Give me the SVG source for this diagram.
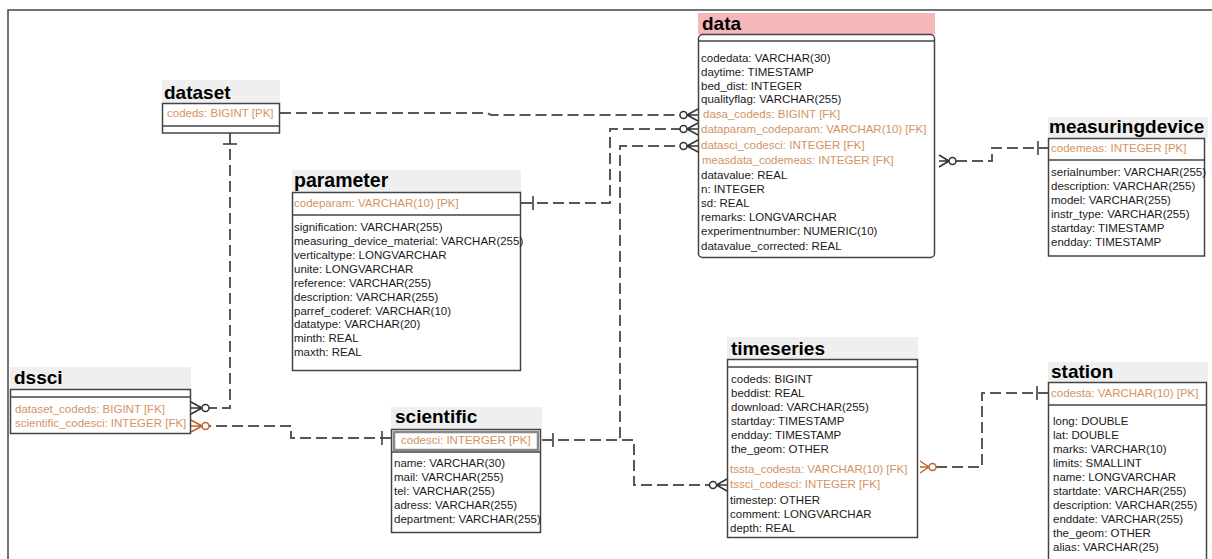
<svg xmlns="http://www.w3.org/2000/svg" width="1212" height="559" viewBox="0 0 1212 559">
<style>
.hdr{fill:#efefef}
.hdrp{fill:#f5b8ba}
.box{fill:#fff;stroke:#444;stroke-width:1.5}
.sep{stroke:#444;stroke-width:1.5}
.t{font-family:"Liberation Sans",Arial,sans-serif;font-size:19px;font-weight:bold;fill:#000}
.f{font-family:"Liberation Sans",Arial,sans-serif;font-size:11.5px;fill:#1a1a1a}
.k{fill:#d4935f}
.c{fill:none;stroke:#585858;stroke-width:2;stroke-dasharray:11 5}
.s{fill:none;stroke:#333;stroke-width:1.5}
.o{fill:#fff;stroke:#333;stroke-width:1.5}
.so{fill:none;stroke:#c0652f;stroke-width:1.5}
.oo{fill:#fff;stroke:#c0652f;stroke-width:1.5}
</style>
<rect x="0" y="0" width="1212" height="559" fill="#fff"/>
<path d="M8,559 V10 H1212" fill="none" stroke="#444" stroke-width="1.5"/>

<g id="connectors">
  <!-- dataset -> data -->
  <path class="c" d="M280,113 H487 L491,115 H680"/>
  <circle class="o" cx="683.5" cy="115" r="3.5"/>
  <path class="s" d="M687,115 L698,109 M687,115 H698 M687,115 L698,121"/>
  <!-- parameter -> data -->
  <path class="c" d="M521,203 H610 V129 H680"/>
  <path class="s" d="M533,196 V210"/>
  <circle class="o" cx="683.5" cy="129" r="3.5"/>
  <path class="s" d="M687,129 L698,123 M687,129 H698 M687,129 L698,135"/>
  <!-- scientific -> data -->
  <path class="c" d="M542,440 H620 V146 H680"/>
  <path class="s" d="M553,433 V447"/>
  <circle class="o" cx="683.5" cy="146" r="3.5"/>
  <path class="s" d="M687,146 L698,140 M687,146 H698 M687,146 L698,152"/>
  <!-- scientific -> timeseries -->
  <path class="c" d="M542,440 H634 V485 H709.5"/>
  <circle class="o" cx="713" cy="485" r="3.5"/>
  <path class="s" d="M716.5,485 L727,479 M716.5,485 H727 M716.5,485 L727,491"/>
  <!-- dataset -> dssci -->
  <path class="c" d="M230,133 V408 H209"/>
  <path class="s" d="M223,144 H237"/>
  <circle class="o" cx="205.5" cy="408" r="3.5"/>
  <path class="s" d="M202,408 L191,402 M202,408 H191 M202,408 L191,414"/>
  <!-- scientific -> dssci -->
  <path class="c" d="M391,438 H291 V426 H209"/>
  <path class="s" d="M382,431 V445"/>
  <circle class="oo" cx="205.5" cy="426" r="3.5"/>
  <path class="so" d="M202,426 L191,420 M202,426 H191 M202,426 L191,432"/>
  <!-- measuringdevice -> data -->
  <path class="c" d="M956,161 H992 V148 H1048"/>
  <path class="s" d="M1038,141 V155"/>
  <circle class="o" cx="952.5" cy="161" r="3.5"/>
  <path class="s" d="M949,161 L939,155 M949,161 H939 M949,161 L939,167"/>
  <!-- station -> timeseries -->
  <path class="c" d="M936,467 H982 V393 H1048"/>
  <path class="s" d="M1037,386 V400"/>
  <circle class="oo" cx="932.5" cy="467" r="3.5"/>
  <path class="so" d="M929,467 L920,461 M929,467 H920 M929,467 L920,473"/>
</g>

<g id="data">
  <rect class="hdrp" x="698" y="13" width="237" height="21"/>
  <text class="t" x="702" y="30">data</text>
  <rect class="box" x="698.5" y="34.5" width="236" height="223" rx="4"/>
  <line class="sep" x1="698.5" y1="41" x2="934.5" y2="41"/>
  <text class="f" x="701" y="62">codedata: VARCHAR(30)</text>
  <text class="f" x="701" y="76">daytime: TIMESTAMP</text>
  <text class="f" x="701" y="90">bed_dist: INTEGER</text>
  <text class="f" x="701" y="103">qualityflag: VARCHAR(255)</text>
  <text class="f k" x="703" y="118">dasa_codeds: BIGINT [FK]</text>
  <text class="f k" x="701" y="133">dataparam_codeparam: VARCHAR(10) [FK]</text>
  <text class="f k" x="701" y="149">datasci_codesci: INTEGER [FK]</text>
  <text class="f k" x="702" y="164">measdata_codemeas: INTEGER [FK]</text>
  <text class="f" x="701" y="179">datavalue: REAL</text>
  <text class="f" x="701" y="193">n: INTEGER</text>
  <text class="f" x="701" y="207">sd: REAL</text>
  <text class="f" x="701" y="221">remarks: LONGVARCHAR</text>
  <text class="f" x="701" y="235">experimentnumber: NUMERIC(10)</text>
  <text class="f" x="701" y="250">datavalue_corrected: REAL</text>
</g>

<g id="dataset">
  <rect class="hdr" x="162" y="80" width="118" height="23"/>
  <text class="t" x="164" y="99">dataset</text>
  <rect class="box" x="162.5" y="103.5" width="117" height="29.5"/>
  <line class="sep" x1="162.5" y1="126" x2="279.5" y2="126"/>
  <text class="f k" x="167" y="117">codeds: BIGINT [PK]</text>
</g>

<g id="parameter">
  <rect class="hdr" x="292" y="170" width="229" height="22"/>
  <text class="t" x="294" y="187" style="font-size:19.5px">parameter</text>
  <rect class="box" x="292.5" y="192.5" width="228" height="178"/>
  <line class="sep" x1="292.5" y1="215" x2="520.5" y2="215"/>
  <text class="f k" x="294" y="207">codeparam: VARCHAR(10) [PK]</text>
  <text class="f" x="294" y="231">signification: VARCHAR(255)</text>
  <text class="f" x="294" y="245">measuring_device_material: VARCHAR(255)</text>
  <text class="f" x="294" y="259">verticaltype: LONGVARCHAR</text>
  <text class="f" x="294" y="273">unite: LONGVARCHAR</text>
  <text class="f" x="294" y="287">reference: VARCHAR(255)</text>
  <text class="f" x="294" y="301">description: VARCHAR(255)</text>
  <text class="f" x="294" y="315">parref_coderef: VARCHAR(10)</text>
  <text class="f" x="294" y="328">datatype: VARCHAR(20)</text>
  <text class="f" x="294" y="342">minth: REAL</text>
  <text class="f" x="294" y="356">maxth: REAL</text>
</g>

<g id="dssci">
  <rect class="hdr" x="10" y="367" width="181" height="22"/>
  <text class="t" x="14" y="384">dssci</text>
  <rect class="box" x="10.5" y="389.5" width="180" height="44"/>
  <line class="sep" x1="10.5" y1="397" x2="190.5" y2="397"/>
  <text class="f k" x="15" y="413">dataset_codeds: BIGINT [FK]</text>
  <text class="f k" x="15" y="427">scientific_codesci: INTEGER [FK]</text>
</g>

<g id="scientific">
  <rect class="hdr" x="391" y="407" width="151" height="22"/>
  <text class="t" x="395" y="423">scientific</text>
  <rect class="box" x="391.5" y="429.5" width="149" height="103"/>
  <rect x="394" y="432" width="144" height="18" fill="#fff" stroke="#888" stroke-width="2.5"/>
  <line class="sep" x1="391.5" y1="452" x2="540.5" y2="452"/>
  <text class="f k" x="401" y="444">codesci: INTERGER [PK]</text>
  <text class="f" x="394" y="467">name: VARCHAR(30)</text>
  <text class="f" x="394" y="481">mail: VARCHAR(255)</text>
  <text class="f" x="394" y="495">tel: VARCHAR(255)</text>
  <text class="f" x="394" y="509">adress: VARCHAR(255)</text>
  <text class="f" x="394" y="523">department: VARCHAR(255)</text>
</g>

<g id="timeseries">
  <rect class="hdr" x="727" y="337" width="191" height="22"/>
  <text class="t" x="731" y="355">timeseries</text>
  <rect class="box" x="727.5" y="359.5" width="190" height="178"/>
  <line class="sep" x1="727.5" y1="367" x2="917.5" y2="367"/>
  <text class="f" x="731" y="383">codeds: BIGINT</text>
  <text class="f" x="731" y="397">beddist: REAL</text>
  <text class="f" x="731" y="411">download: VARCHAR(255)</text>
  <text class="f" x="731" y="425">startday: TIMESTAMP</text>
  <text class="f" x="731" y="439">endday: TIMESTAMP</text>
  <text class="f" x="731" y="453">the_geom: OTHER</text>
  <text class="f k" x="730" y="473">tssta_codesta: VARCHAR(10) [FK]</text>
  <text class="f k" x="730" y="488">tssci_codesci: INTEGER [FK]</text>
  <text class="f" x="730" y="504">timestep: OTHER</text>
  <text class="f" x="730" y="518">comment: LONGVARCHAR</text>
  <text class="f" x="730" y="532">depth: REAL</text>
</g>

<g id="station">
  <rect class="hdr" x="1048" y="362" width="160" height="20"/>
  <text class="t" x="1051" y="378">station</text>
  <rect class="box" x="1048.5" y="382.5" width="158" height="190"/>
  <line class="sep" x1="1048.5" y1="405" x2="1206.5" y2="405"/>
  <text class="f k" x="1051" y="397">codesta: VARCHAR(10) [PK]</text>
  <text class="f" x="1053" y="425">long: DOUBLE</text>
  <text class="f" x="1053" y="439">lat: DOUBLE</text>
  <text class="f" x="1053" y="453">marks: VARCHAR(10)</text>
  <text class="f" x="1053" y="467">limits: SMALLINT</text>
  <text class="f" x="1053" y="481">name: LONGVARCHAR</text>
  <text class="f" x="1053" y="495">startdate: VARCHAR(255)</text>
  <text class="f" x="1053" y="509">description: VARCHAR(255)</text>
  <text class="f" x="1053" y="523">enddate: VARCHAR(255)</text>
  <text class="f" x="1053" y="537">the_geom: OTHER</text>
  <text class="f" x="1053" y="551">alias: VARCHAR(25)</text>
</g>

<g id="measuringdevice">
  <rect class="hdr" x="1048" y="117" width="160" height="21"/>
  <text class="t" x="1049" y="133">measuringdevice</text>
  <rect class="box" x="1048.5" y="138.5" width="156" height="117.5"/>
  <line class="sep" x1="1048.5" y1="160" x2="1204.5" y2="160"/>
  <text class="f k" x="1051" y="152">codemeas: INTEGER [PK]</text>
  <text class="f" x="1051" y="176">serialnumber: VARCHAR(255)</text>
  <text class="f" x="1051" y="190">description: VARCHAR(255)</text>
  <text class="f" x="1051" y="204">model: VARCHAR(255)</text>
  <text class="f" x="1051" y="218">instr_type: VARCHAR(255)</text>
  <text class="f" x="1051" y="232">startday: TIMESTAMP</text>
  <text class="f" x="1051" y="246">endday: TIMESTAMP</text>
</g>
</svg>
